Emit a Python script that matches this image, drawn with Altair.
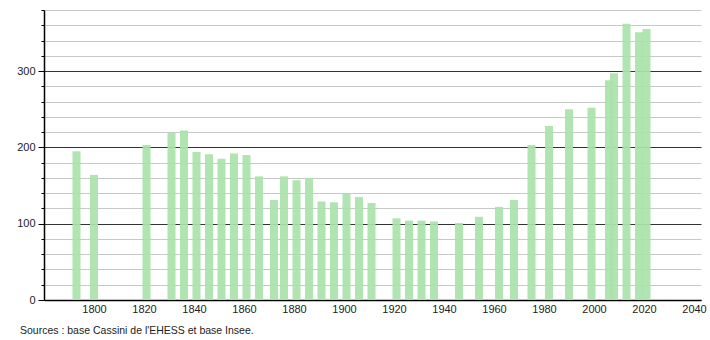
import altair as alt
import pandas as pd

years = [1793, 1800, 1821, 1831, 1836, 1841, 1846, 1851, 1856, 1861, 1866,
         1872, 1876, 1881, 1886, 1891, 1896, 1901, 1906, 1911, 1921, 1926,
         1931, 1936, 1946, 1954, 1962, 1968, 1975, 1982, 1990, 1999, 2006,
         2008, 2013, 2018, 2021]
population = [195, 164, 203, 219, 222, 194, 191, 185, 192, 190, 162,
              131, 162, 157, 160, 129, 128, 139, 135, 127, 107, 104,
              104, 103, 101, 109, 122, 131, 203, 228, 250, 252, 288,
              297, 362, 351, 355]
x_labels = [1800, 1820, 1840, 1860, 1880, 1900, 1920, 1940, 1960, 1980, 2000, 2020, 2040]
y_ticks = list(range(0, 381, 20))
source_text = "Sources : base Cassini de l'EHESS et base Insee."

df = pd.DataFrame({"year": years, "pop": population})

FONT = "Liberation Sans"

bars = alt.Chart(df).mark_bar(size=8, color="#a9e2a9", opacity=0.92).encode(
    x=alt.X("year:Q",
            scale=alt.Scale(domain=[1780, 2042.8], nice=False, zero=False, padding=0),
            axis=alt.Axis(values=x_labels, format="d", title=None, grid=False,
                          ticks=False, domainColor="#000", domainWidth=1.5,
                          labelFont=FONT, labelFontSize=11, labelColor="#222",
                          labelPadding=3, labelFlush=False)),
    y=alt.Y("pop:Q",
            scale=alt.Scale(domain=[0, 380], nice=False),
            axis=alt.Axis(values=y_ticks, title=None, grid=True,
                          gridColor={"condition": {"test": "datum.value % 100 === 0", "value": "#333333"}, "value": "#c8c8c8"},
                          gridWidth=1,
                          tickSize={"condition": {"test": "datum.value % 100 === 0", "value": 6}, "value": 3},
                          tickColor="#000",
                          domainColor="#000", domainWidth=1.5,
                          labelExpr="datum.value % 100 === 0 ? datum.label : ''",
                          labelFont=FONT, labelFontSize=11, labelColor="#222",
                          labelPadding=3)),
)

src = alt.Chart(pd.DataFrame({"t": [source_text]})).mark_text(
    align="left", baseline="middle", font=FONT, fontSize=10.5, color="#222"
).encode(text="t:N", x=alt.value(-24), y=alt.value(321))

chart = alt.layer(bars, src).properties(
    width=657, height=290,
    padding={"left": 44, "top": 10, "right": 9, "bottom": 40},
    autosize=alt.AutoSizeParams(type="none"),
    background="white",
).configure_view(stroke=None)

chart.save("out.html", embed_options={"renderer": "svg", "actions": False})
